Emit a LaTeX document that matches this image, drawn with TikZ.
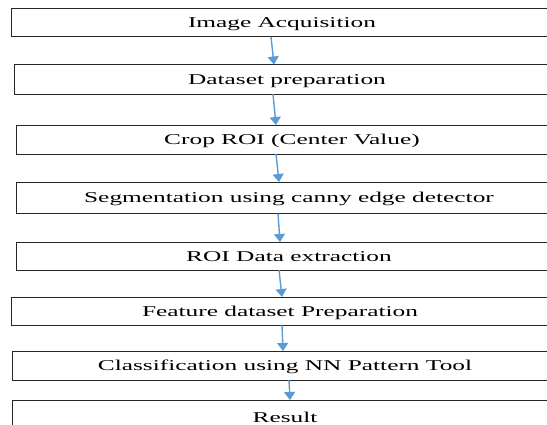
\documentclass[tikz,border=0pt]{standalone}
\usepackage{fontspec}
\setmainfont{Liberation Serif}[FakeStretch=1.69]
\usetikzlibrary{arrows.meta}
\definecolor{arrowblue}{HTML}{5B9BD5}
\begin{document}
\begin{tikzpicture}[x=1pt,y=-1pt,
  stagebox/.style={draw=black!85,line width=0.9pt,rectangle,anchor=north west,
    inner sep=0pt,outer sep=0pt,minimum width=560pt},
  lbl/.style={anchor=base,inner sep=0pt,font=\fontsize{15}{18}\selectfont},
  flow/.style={draw=arrowblue,line width=1.4pt,-{Triangle[width=11pt,length=8pt]}}]
\useasboundingbox (0,0) rectangle (547,424);
\clip (0,0) rectangle (547,424);
% boxes
\node[stagebox,minimum height=28.2pt] (b1) at (11,8.5) {};
\node[stagebox,minimum height=29.5pt] (b2) at (14,64.5) {};
\node[stagebox,minimum height=29pt]   (b3) at (16,125) {};
\node[stagebox,minimum height=31.5pt] (b4) at (16,182) {};
\node[stagebox,minimum height=28pt]   (b5) at (16,242) {};
\node[stagebox,minimum height=28pt]   (b6) at (11,297) {};
\node[stagebox,minimum height=29pt]   (b7) at (12.7,351) {};
\node[stagebox,minimum height=30pt]   (b8) at (12.7,400) {};
% labels
\node[lbl] (t1) at (282,27.6) {Image Acquisition};
\node[lbl] (t2) at (287,84.3) {Dataset preparation};
\node[lbl] (t3) at (292,144.5) {Crop ROI (Center Value)};
\node[lbl] (t4) at (289,202.8) {Segmentation using canny edge detector};
\node[lbl] (t5) at (289,261) {ROI Data extraction};
\node[lbl] (t6) at (280,316) {Feature dataset Preparation};
\node[lbl] (t7) at (285,370.5) {Classification using NN Pattern Tool};
\node[lbl] (t8) at (285,422) {Result};
% arrows
\draw[flow] ([xshift=260pt]b1.south west) -- ([xshift=260pt]b2.north west);
\draw[flow] ([xshift=259pt]b2.south west) -- ([xshift=260pt]b3.north west);
\draw[flow] ([xshift=260pt]b3.south west) -- ([xshift=263pt]b4.north west);
\draw[flow] ([xshift=262pt]b4.south west) -- ([xshift=264pt]b5.north west);
\draw[flow] ([xshift=263pt]b5.south west) -- ([xshift=271pt]b6.north west);
\draw[flow] ([xshift=271pt]b6.south west) -- ([xshift=270.3pt]b7.north west);
\draw[flow] ([xshift=276.3pt]b7.south west) -- ([xshift=277.3pt]b8.north west);
\end{tikzpicture}
\end{document}
